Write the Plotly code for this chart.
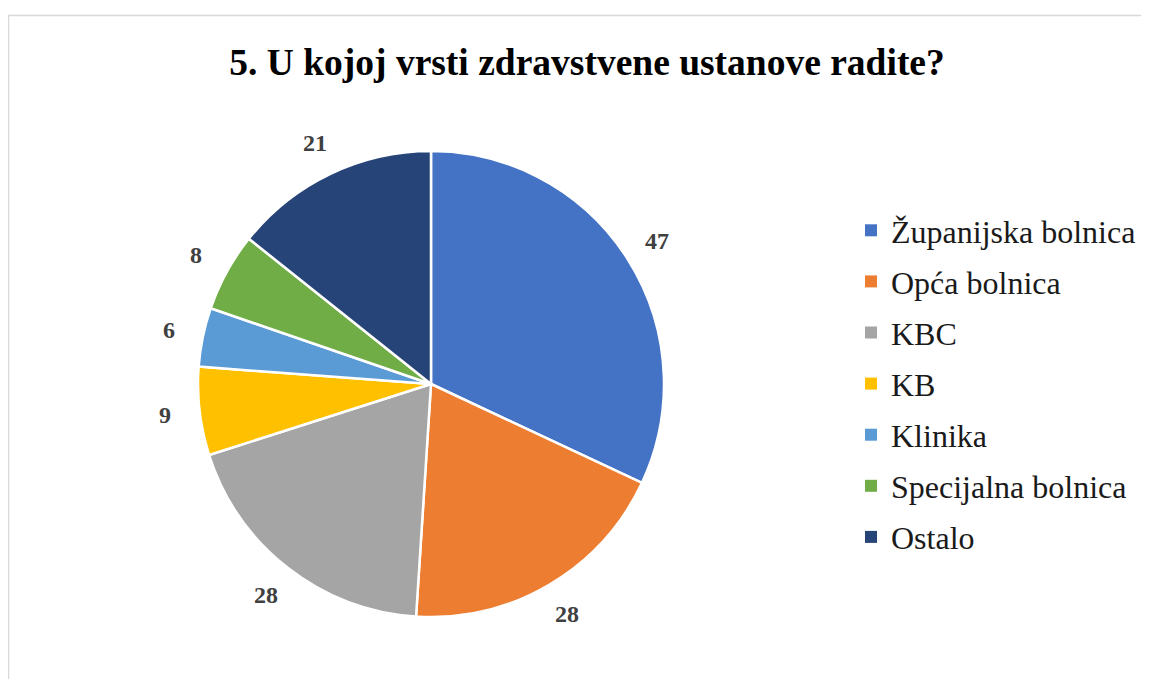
import numpy as np
import plotly.graph_objects as go

title = "5. U kojoj vrsti zdravstvene ustanove radite?"
labels = ["Županijska bolnica", "Opća bolnica", "KBC", "KB", "Klinika",
          "Specijalna bolnica", "Ostalo"]
values = [47, 28, 28, 9, 6, 8, 21]
colors = ["#4472C4", "#ED7D31", "#A5A5A5", "#FFC000", "#5B9BD5", "#70AD47", "#264478"]

W, H = 1149, 679
OFF = 8  # page margin in the screenshot
SERIF = "Liberation Serif, Times New Roman, serif"
LABEL_SIZE = 24

# pie placement in pixels
cx, cy, R = 431 - OFF, 384 - OFF, 233

fig = go.Figure()
fig.add_trace(go.Pie(
    labels=labels,
    values=values,
    sort=False,
    direction="clockwise",
    rotation=0,
    marker=dict(colors=colors, line=dict(color="white", width=2.5)),
    textinfo="none",
    hoverinfo="label+value",
    showlegend=False,
    domain=dict(x=[(cx - R) / W, (cx + R) / W], y=[1 - (cy + R) / H, 1 - (cy - R) / H]),
))

# legend entries as dummy traces so the row spacing can be set
for lab, col in zip(labels, colors):
    fig.add_trace(go.Scatter(
        x=[None], y=[None], mode="markers", name=lab, legendgroup=lab,
        marker=dict(symbol="square", size=12, color=col, line=dict(width=0)),
    ))

# data labels outside each slice: anchor point past the edge at the mid angle,
# pushed out by half the label box
total = sum(values)
cum = np.cumsum([0] + values[:-1])
for v, c0 in zip(values, cum):
    ang = np.radians((c0 + v / 2) / total * 360)
    s, c = np.sin(ang), np.cos(ang)
    r = R + 22
    bw, bh = 26, 24
    px = cx + r * s + s * bw / 2
    py = cy - r * c - c * bh / 2
    fig.add_annotation(
        x=px / W, y=1 - py / H, xref="paper", yref="paper",
        xanchor="center", yanchor="middle",
        text=f"<b>{v}</b>", showarrow=False,
        font=dict(family=SERIF, size=LABEL_SIZE, color="#404040"),
    )

fig.add_shape(type="rect", xref="paper", yref="paper",
              x0=(8 - OFF + 0.5) / W, x1=1.01, y0=-0.01, y1=1 - (15 - OFF + 0.5) / H,
              line=dict(color="#D9D9D9", width=1.5), layer="below")

fig.update_layout(
    width=W, height=H,
    margin=dict(l=0, r=0, t=0, b=0),
    paper_bgcolor="white",
    plot_bgcolor="white",
    title=dict(text=f"<b>{title}</b>", x=(587 - OFF) / W, xanchor="center",
               y=1 - (62 - OFF) / H, yanchor="middle",
               font=dict(family=SERIF, size=37.5, color="black")),
    xaxis=dict(visible=False),
    yaxis=dict(visible=False),
    legend=dict(x=843 / W, xanchor="left", y=1 - (384 - OFF) / H, yanchor="middle",
                font=dict(family=SERIF, size=32, color="#1a1a1a"),
                tracegroupgap=6.5, bgcolor="rgba(0,0,0,0)"),
    showlegend=True,
)

fig.write_html("out.html")
